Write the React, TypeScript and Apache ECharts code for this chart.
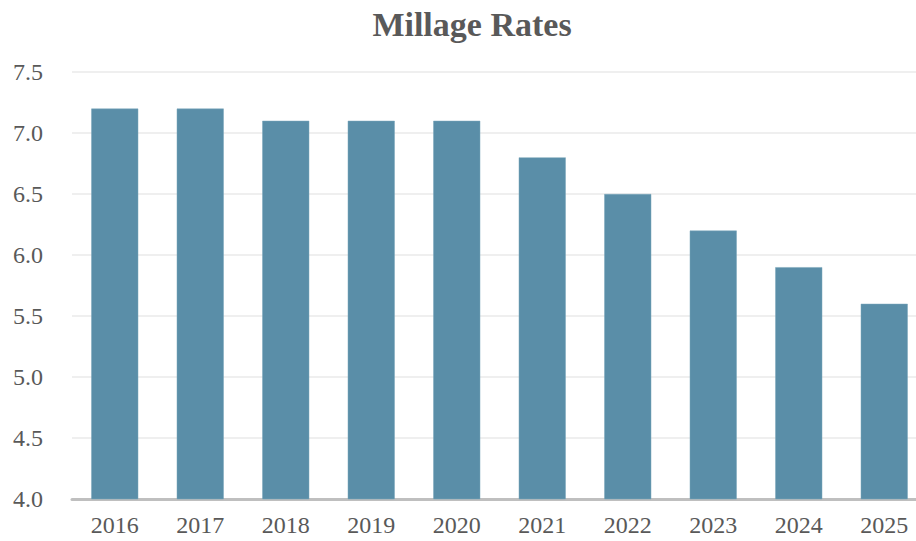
import React, { useEffect, useRef } from "react";
import * as echarts from "echarts";

const categories = ["2016", "2017", "2018", "2019", "2020", "2021", "2022", "2023", "2024", "2025"];
const millageValues = [7.2, 7.2, 7.1, 7.1, 7.1, 6.8, 6.5, 6.2, 5.9, 5.6];
const yMin = 4.0;
const yMax = 7.5;
const yInterval = 0.5;

export default function App() {
  const ref = useRef<HTMLDivElement>(null);
  useEffect(() => {
    if (!ref.current) return;
    const chart = echarts.init(ref.current, null, { renderer: "svg" });
    chart.setOption({
      animation: false,
      backgroundColor: "#ffffff",
      title: {
        text: "Millage Rates",
        left: "center",
        top: 2,
        textStyle: {
          fontFamily: "Liberation Serif, Times New Roman, serif",
          fontWeight: "bold",
          fontSize: 34,
          color: "#595959",
        },
      },
      grid: { left: 72, right: 17, top: 72, bottom: 42, containLabel: false },
      xAxis: {
        type: "category",
        data: categories,
        axisLine: { lineStyle: { color: "#bfbfbf", width: 3 } },
        axisTick: { show: false },
        axisLabel: {
          fontFamily: "Liberation Serif, Times New Roman, serif",
          fontSize: 24,
          color: "#595959",
          margin: 14,
        },
      },
      yAxis: {
        type: "value",
        min: yMin,
        max: yMax,
        interval: yInterval,
        axisLine: { show: false },
        axisTick: { show: false },
        splitLine: { lineStyle: { color: "#efefef", width: 2 } },
        axisLabel: {
          fontFamily: "Liberation Serif, Times New Roman, serif",
          fontSize: 24,
          color: "#595959",
          margin: 29,
          formatter: (v: number) => v.toFixed(1),
        },
      },
      series: [
        {
          type: "bar",
          data: millageValues,
          barWidth: 47,
          itemStyle: { color: "#5a8ea8", borderColor: "#7aa6bb", borderWidth: 0.5 },
        },
      ],
    });
    return () => chart.dispose();
  }, []);
  return (
    <div style={{ position: "absolute", left: 0, top: 0, width: 916, height: 541, overflow: "hidden" }}>
      <div ref={ref} style={{ width: 944, height: 541 }} />
    </div>
  );
}
